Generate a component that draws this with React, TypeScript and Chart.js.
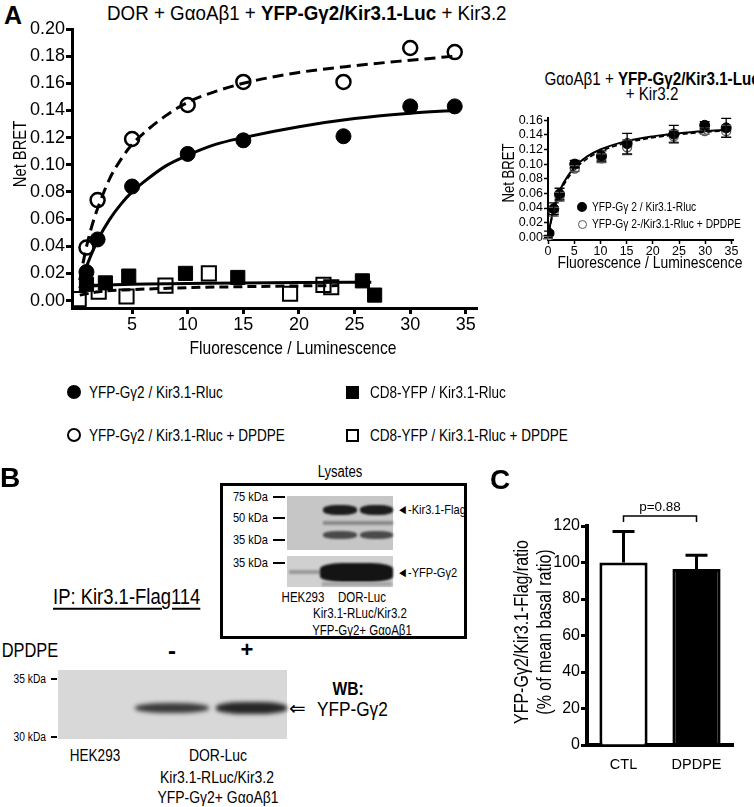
import React, { useEffect, useRef } from 'react';
import { Chart, registerables } from 'chart.js';
Chart.register(...registerables);

const SANS = "'Liberation Sans', Arial, sans-serif";

// ---------- Panel A: main saturation curves ----------
const gammaX = [0.9, 1.9, 5, 10, 15, 24, 30, 34];
const gammaY = [0.021, 0.045, 0.084, 0.108, 0.118, 0.121, 0.143, 0.143];
const gammaDpX = [0.9, 1.9, 5, 10, 15, 24, 30, 34];
const gammaDpY = [0.039, 0.074, 0.119, 0.144, 0.161, 0.161, 0.186, 0.183];
const cd8X = [0.9, 2.6, 4.7, 9.8, 14.5, 25.7, 26.8];
const cd8Y = [0.012, 0.013, 0.018, 0.02, 0.017, 0.0145, 0.004];
const cd8DpX = [0.2, 2.0, 4.5, 8.0, 11.9, 19.2, 22.2, 22.9];
const cd8DpY = [0.001, 0.0065, 0.003, 0.011, 0.02, 0.005, 0.0115, 0.0098];

// fitted curves
const fitX = [0.3, 0.6, 1, 1.5, 2, 3, 4, 5, 6, 8, 10, 12.5, 15, 20, 25, 30, 34];
const fitGammaY = [0.009, 0.017, 0.027, 0.037, 0.046, 0.06, 0.071, 0.08, 0.087, 0.099, 0.107, 0.115, 0.12, 0.128, 0.134, 0.138, 0.14];
const fitGammaDpY = [0.015, 0.028, 0.043, 0.058, 0.07, 0.09, 0.104, 0.115, 0.123, 0.136, 0.146, 0.154, 0.16, 0.168, 0.173, 0.177, 0.18];
const fitCd8X = [0.3, 2, 5, 10, 15, 20, 26.5];
const fitCd8Y = [0.01, 0.011, 0.012, 0.0125, 0.013, 0.0133, 0.0135];
const fitCd8DpX = [0.3, 2, 5, 10, 15, 20, 23.5];
const fitCd8DpY = [0.004, 0.0065, 0.008, 0.0095, 0.0102, 0.0108, 0.011];

const mainXTicks = [5, 10, 15, 20, 25, 30, 35];
const mainYTicks = [0, 0.02, 0.04, 0.06, 0.08, 0.1, 0.12, 0.14, 0.16, 0.18, 0.2];

// ---------- Panel A: inset ----------
const insX = [0.2, 1.1, 2.2, 5.1, 10.2, 15.1, 24, 29.9, 34];
const insY = [0.0055, 0.039, 0.059, 0.1, 0.111, 0.128, 0.141, 0.153, 0.1495];
const insErr = [0.003, 0.008, 0.008, 0.005, 0.007, 0.014, 0.012, 0.005, 0.013];
const insDpX = [0.0, 1.1, 2.2, 5.1, 10.2, 15.1, 24, 29.9, 34];
const insDpY = [0.0, 0.035, 0.0555, 0.094, 0.108, 0.123, 0.138, 0.145, 0.145];
const insDpErr = [0.002, 0.006, 0.006, 0.004, 0.006, 0.01, 0.008, 0.004, 0.008];
const insFitX = [0.2, 0.5, 1, 2, 3, 5, 7.5, 10, 15, 20, 25, 30, 34];
const insFitY = [0.0088, 0.0203, 0.036, 0.0589, 0.0748, 0.0953, 0.1105, 0.12, 0.1314, 0.1379, 0.1421, 0.1451, 0.1469];
const insFitDpY = [0.0081, 0.0188, 0.0338, 0.0559, 0.0716, 0.092, 0.1075, 0.1174, 0.1293, 0.1361, 0.1406, 0.1438, 0.1457];
const insXTicks = [0, 5, 10, 15, 20, 25, 30, 35];
const insYTicks = [0, 0.02, 0.04, 0.06, 0.08, 0.1, 0.12, 0.14, 0.16];

// ---------- Panel C ----------
const cCats = ['CTL', 'DPDPE'];
const cValues = [100, 96.5];
const cErrors = [17, 7.5];
const cYTicks = [0, 20, 40, 60, 80, 100, 120];
const cPText = 'p=0.88';
const cBracketY = 125.5;

const pts = (xs: number[], ys: number[]) => xs.map((x, i) => ({ x, y: ys[i] }));

type TP = { x: number; y: number; s: number; t: React.ReactNode; b?: boolean; a?: 'l' | 'c' | 'r'; f?: string; rot?: boolean; u?: boolean; sx?: number };
const T = ({ x, y, s, t, b, a = 'c', f = SANS, rot, u, sx = 0.82 }: TP) => {
  const tx = a === 'c' ? '-50%' : a === 'r' ? '-100%' : '0';
  const origin = a === 'c' ? 'center center' : a === 'r' ? 'right center' : 'left center';
  return (
    <div
      style={{
        position: 'absolute', left: x, top: y,
        transformOrigin: origin,
        transform: `translate(${tx},-50%)${rot ? ' rotate(-90deg)' : ''} scaleX(${sx})`,
        fontSize: s, fontWeight: b ? 'bold' : 'normal', fontFamily: f,
        whiteSpace: 'nowrap', lineHeight: 1, color: '#000',
        textDecoration: u ? 'underline' : undefined, textUnderlineOffset: u ? 4 : undefined,
      }}
    >{t}</div>
  );
};

const Box = (p: { l: number; t: number; w: number; h: number; bg?: string; border?: string; r?: string; blur?: number }) => (
  <div style={{ position: 'absolute', left: p.l, top: p.t, width: p.w, height: p.h, background: p.bg, border: p.border, borderRadius: p.r, boxSizing: 'border-box', filter: p.blur ? `blur(${p.blur}px)` : undefined }} />
);

const lineDs = (data: any, dash?: number[]) => ({
  type: 'line' as const, data, borderColor: '#000', borderWidth: 3, pointRadius: 0, fill: false,
  cubicInterpolationMode: 'monotone' as const, borderDash: dash || [], order: 0,
});

export default function App() {
  const mainRef = useRef<HTMLCanvasElement>(null);
  const insRef = useRef<HTMLCanvasElement>(null);
  const cRef = useRef<HTMLCanvasElement>(null);

  useEffect(() => {
    const charts: Chart[] = [];
    const axisCommon = (tl: number, tw: number, bw: number) => ({
      grid: { drawOnChartArea: false, drawTicks: true, tickLength: tl, tickWidth: tw, color: '#000' },
      border: { display: true, color: '#000', width: bw },
    });

    charts.push(new Chart(mainRef.current!, {
      type: 'scatter',
      data: {
        datasets: [
          lineDs(pts(fitX, fitGammaY)),
          lineDs(pts(fitX, fitGammaDpY), [11, 6]),
          lineDs(pts(fitCd8X, fitCd8Y)),
          lineDs(pts(fitCd8DpX, fitCd8DpY), [9, 5]),
          { type: 'scatter', data: pts(gammaX, gammaY), pointStyle: 'circle', pointRadius: 7.5, backgroundColor: '#000', borderColor: '#000', borderWidth: 1, order: 1 },
          { type: 'scatter', data: pts(gammaDpX, gammaDpY), pointStyle: 'circle', pointRadius: 7, backgroundColor: 'rgba(255,255,255,0)', borderColor: '#000', borderWidth: 2.5, order: 1 },
          { type: 'scatter', data: pts(cd8X, cd8Y), pointStyle: 'rect', pointRadius: 10, backgroundColor: '#000', borderColor: '#000', borderWidth: 1, order: 1 },
          { type: 'scatter', data: pts(cd8DpX, cd8DpY), pointStyle: 'rect', pointRadius: 10, backgroundColor: 'rgba(255,255,255,0)', borderColor: '#000', borderWidth: 2, order: 1 },
        ] as any,
      },
      options: {
        animation: false, responsive: false, maintainAspectRatio: false,
        layout: { padding: { top: 29, right: 23, left: 0, bottom: 0 } },
        plugins: { legend: { display: false }, tooltip: { enabled: false } },
        scales: {
          x: {
            type: 'linear', min: -0.4, max: 36,
            afterBuildTicks: (s: any) => { s.ticks = mainXTicks.map(v => ({ value: v })); },
            afterFit: (s: any) => { s.height = 52; },
            ...axisCommon(6, 3, 3),
            ticks: { font: { family: SANS, size: 18 }, color: '#000', padding: 0, maxRotation: 0, autoSkip: false, callback: (v: any) => String(v) },
          },
          y: {
            type: 'linear', min: -0.0055, max: 0.2,
            afterBuildTicks: (s: any) => { s.ticks = mainYTicks.map(v => ({ value: v })); },
            afterFit: (s: any) => { s.width = 72; },
            ...axisCommon(6, 3, 3),
            ticks: { font: { family: SANS, size: 18 }, color: '#000', padding: 1, autoSkip: false, callback: (v: any) => Number(v).toFixed(2) },
          },
        },
      } as any,
    }));

    const errPlugin = {
      id: 'errbars',
      afterDatasetsDraw(chart: any) {
        const { ctx, scales: { x, y } } = chart;
        chart.data.datasets.forEach((ds: any) => {
          if (!ds.errors) return;
          ctx.save();
          ctx.strokeStyle = ds.errColor || '#000';
          ctx.lineWidth = 1.3;
          ds.data.forEach((p: any, i: number) => {
            const px = x.getPixelForValue(p.x);
            const top = y.getPixelForValue(p.y + ds.errors[i]);
            const bot = y.getPixelForValue(p.y - ds.errors[i]);
            ctx.beginPath();
            ctx.moveTo(px, top); ctx.lineTo(px, bot);
            ctx.moveTo(px - 5, top); ctx.lineTo(px + 5, top);
            ctx.moveTo(px - 5, bot); ctx.lineTo(px + 5, bot);
            ctx.stroke();
          });
          ctx.restore();
        });
      },
    };

    charts.push(new Chart(insRef.current!, {
      type: 'scatter',
      data: {
        datasets: [
          { ...lineDs(pts(insFitX, insFitY)), borderWidth: 2 },
          { ...lineDs(pts(insFitX, insFitDpY), [5, 3]), borderWidth: 1.8 },
          { type: 'scatter', data: pts(insDpX, insDpY), errors: insDpErr, errColor: '#555', pointRadius: 4.5, backgroundColor: '#fff', borderColor: '#555', borderWidth: 1.3, order: 2 },
          { type: 'scatter', data: pts(insX, insY), errors: insErr, pointRadius: 5, backgroundColor: '#000', borderColor: '#000', borderWidth: 1, order: 1 },
        ] as any,
      },
      options: {
        animation: false, responsive: false, maintainAspectRatio: false,
        layout: { padding: { top: 18, right: 21, left: 0, bottom: 0 } },
        plugins: { legend: { display: false }, tooltip: { enabled: false } },
        scales: {
          x: {
            type: 'linear', min: 0, max: 35.3,
            afterBuildTicks: (s: any) => { s.ticks = insXTicks.map(v => ({ value: v })); },
            afterFit: (s: any) => { s.height = 35; },
            ...axisCommon(4, 1.5, 2),
            ticks: { font: { family: SANS, size: 12.5 }, color: '#000', padding: 0, maxRotation: 0, autoSkip: false, callback: (v: any) => String(v) },
          },
          y: {
            type: 'linear', min: -0.0037, max: 0.163,
            afterBuildTicks: (s: any) => { s.ticks = insYTicks.map(v => ({ value: v })); },
            afterFit: (s: any) => { s.width = 48; },
            ...axisCommon(4, 1.5, 2),
            ticks: { font: { family: SANS, size: 12.5 }, color: '#000', padding: 1, autoSkip: false, callback: (v: any) => Number(v).toFixed(2) },
          },
        },
      } as any,
      plugins: [errPlugin],
    }));

    const barPlugin = {
      id: 'barerr',
      afterDatasetsDraw(chart: any) {
        const { ctx, scales: { x, y } } = chart;
        const meta = chart.getDatasetMeta(0);
        ctx.save();
        ctx.strokeStyle = '#000';
        ctx.lineWidth = 3;
        meta.data.forEach((bar: any, i: number) => {
          const px = bar.x;
          const top = y.getPixelForValue(cValues[i] + cErrors[i]);
          const base = y.getPixelForValue(cValues[i]);
          ctx.beginPath();
          ctx.moveTo(px, base); ctx.lineTo(px, top);
          ctx.moveTo(px - 11, top); ctx.lineTo(px + 11, top);
          ctx.stroke();
        });
        const x0 = x.getPixelForValue(0), x1 = x.getPixelForValue(1);
        const yb = y.getPixelForValue(cBracketY);
        ctx.lineWidth = 1.5;
        ctx.beginPath();
        ctx.moveTo(x0, yb + 6); ctx.lineTo(x0, yb); ctx.lineTo(x1, yb); ctx.lineTo(x1, yb + 6);
        ctx.stroke();
        ctx.fillStyle = '#000';
        ctx.font = `13.5px ${SANS}`;
        ctx.textAlign = 'center';
        ctx.textBaseline = 'bottom';
        ctx.fillText(cPText, (x0 + x1) / 2, yb - 2);
        ctx.restore();
      },
    };

    charts.push(new Chart(cRef.current!, {
      type: 'bar',
      data: {
        labels: cCats,
        datasets: [{
          data: cValues, backgroundColor: ['#fff', '#000'], borderColor: '#000', borderWidth: 3,
          barPercentage: 0.66, categoryPercentage: 1,
        }],
      },
      options: {
        animation: false, responsive: false, maintainAspectRatio: false,
        layout: { padding: { top: 26, right: 21, left: 0, bottom: 0 } },
        plugins: { legend: { display: false }, tooltip: { enabled: false } },
        scales: {
          x: {
            afterFit: (s: any) => { s.height = 55; },
            grid: { display: false, drawTicks: false },
            border: { display: true, color: '#000', width: 4 },
            ticks: { font: { family: SANS, size: 14.5 }, color: '#000', padding: 11 },
          },
          y: {
            min: 0, max: 120,
            afterBuildTicks: (s: any) => { s.ticks = cYTicks.map(v => ({ value: v })); },
            afterFit: (s: any) => { s.width = 97; },
            ...axisCommon(6, 3, 4),
            ticks: { font: { family: SANS, size: 16 }, color: '#000', padding: 1, autoSkip: false },
          },
        },
      } as any,
      plugins: [barPlugin],
    }));

    return () => charts.forEach(c => c.destroy());
  }, []);

  const dot = (cx: number, cy: number, d: number, filled: boolean, bw = 2, col = '#000') => (
    <div style={{ position: 'absolute', left: cx - d / 2, top: cy - d / 2, width: d, height: d, borderRadius: '50%', background: filled ? col : '#fff', border: `${bw}px solid ${col}`, boxSizing: 'border-box' }} />
  );
  const sq = (cx: number, cy: number, d: number, filled: boolean) => (
    <div style={{ position: 'absolute', left: cx - d / 2, top: cy - d / 2, width: d, height: d, background: filled ? '#000' : '#fff', border: '2px solid #000', boxSizing: 'border-box' }} />
  );
  const dash = (x1: number, x2: number, y: number) => <Box l={x1} t={y - 0.75} w={x2 - x1} h={1.5} bg="#000" />;

  return (
    <div style={{ position: 'relative', width: 754, height: 807, background: '#fff', overflow: 'hidden' }}>
      <style>{'body{margin:0}'}</style>

      {/* Panel A */}
      <T x={13} y={15} s={25} b sx={1} t="A" />
      <T x={107} y={13} s={20.5} a="l" sx={0.915} t={<>DOR + GαoAβ1 + <b>YFP-Gγ2/Kir3.1-Luc</b> + Kir3.2</>} />
      <canvas ref={mainRef} width={500} height={360} style={{ position: 'absolute', left: 0, top: 0, width: 500, height: 360 }} />
      <T x={20} y={154} s={18} rot t="Net BRET" />
      <T x={293} y={347} s={19} t="Fluorescence / Luminescence" />

      {dot(74, 392, 14, true)}
      <T x={89} y={392} s={16.5} a="l" t="YFP-Gγ2 / Kir3.1-Rluc" />
      {dot(74, 435, 14, false)}
      <T x={89} y={435} s={16.5} a="l" t="YFP-Gγ2 / Kir3.1-Rluc + DPDPE" />
      {sq(352, 392, 13, true)}
      <T x={370} y={392} s={16.5} a="l" t="CD8-YFP / Kir3.1-Rluc" />
      {sq(352, 435, 13, false)}
      <T x={370} y={435} s={16.5} a="l" t="CD8-YFP / Kir3.1-Rluc + DPDPE" />

      {/* Inset */}
      <T x={652} y={79} s={18.5} t={<>GαoAβ1 + <b>YFP-Gγ2/Kir3.1-Luc</b></>} />
      <T x={652} y={94} s={18.5} t="+ Kir3.2" />
      <canvas ref={insRef} width={254} height={175} style={{ position: 'absolute', left: 500, top: 100, width: 254, height: 175 }} />
      <T x={509} y={173} s={16} rot t="Net BRET" />
      <T x={650} y={262} s={17} t="Fluorescence / Luminescence" />
      {dot(582, 207, 10, true)}
      <T x={592} y={207} s={12.5} a="l" t="YFP-Gγ 2 / Kir3.1-Rluc" />
      {dot(582, 224, 9, false, 1.3, '#555')}
      <T x={592} y={224} s={12.5} a="l" t="YFP-Gγ 2-/Kir3.1-Rluc + DPDPE" />

      {/* Panel B */}
      <T x={10} y={478} s={28} b sx={1} t="B" />
      <T x={340} y={472} s={16} t="Lysates" />
      <Box l={220} t={483} w={247} h={156} border="3px solid #000" />
      <Box l={287} t={496} w={106} h={54} bg="#c6c6c6" />
      <Box l={323} t={505} w={34} h={10} bg="#1c1c1c" r="40%" blur={1.2} />
      <Box l={360} t={505} w={33} h={10} bg="#1c1c1c" r="40%" blur={1.2} />
      <Box l={323} t={521} w={70} h={4} bg="#8a8a8a" blur={1} />
      <Box l={323} t={531} w={34} h={8} bg="#4a4a4a" r="40%" blur={1.2} />
      <Box l={360} t={531} w={33} h={8} bg="#4a4a4a" r="40%" blur={1.2} />
      <Box l={287} t={556} w={106} h={31} bg="#d0d0d0" />
      <Box l={289} t={570} w={32} h={4} bg="#9a9a9a" blur={1} />
      <Box l={320} t={563} w={73} h={19} bg="#141414" r="30%" blur={1.2} />
      <Box l={322} t={582} w={70} h={4} bg="#a5a5a5" blur={1} />
      <T x={268} y={497} s={13.5} a="r" t="75 kDa" />
      <T x={268} y={518} s={13.5} a="r" t="50 kDa" />
      <T x={268} y={540} s={13.5} a="r" t="35 kDa" />
      <T x={268} y={563} s={13.5} a="r" t="35 kDa" />
      {dash(273, 285, 497)}{dash(273, 285, 518)}{dash(273, 285, 540)}{dash(273, 285, 563)}
      <T x={397} y={510} s={13.5} a="l" t="◄-Kir3.1-Flag" />
      <T x={397} y={573} s={13.5} a="l" t="◄-YFP-Gγ2" />
      <T x={303} y={597} s={14} t="HEK293" />
      <T x={362} y={597} s={14} t="DOR-Luc" />
      <T x={360} y={613} s={14} t="Kir3.1-RLuc/Kir3.2" />
      <T x={362} y={630} s={14} t="YFP-Gγ2+ GαoAβ1" />

      <T x={53} y={597} s={22.5} a="l" u t="IP: Kir3.1-Flag114" />
      <T x={30} y={650} s={20} t="DPDPE" />
      <T x={172} y={651} s={24} b sx={1} t="-" />
      <T x={247} y={650} s={22} b sx={1} t="+" />
      <Box l={58} t={670} w={229} h={69} bg="#d8d8d8" />
      <Box l={135} t={703} w={74} h={10} bg="#3a3a3a" r="45%" blur={2} />
      <Box l={216} t={702} w={71} h={12} bg="#262626" r="40%" blur={2} />
      <T x={46} y={679} s={12.5} a="r" t="35 kDa" />
      <T x={46} y={737} s={12.5} a="r" t="30 kDa" />
      {dash(51, 57, 679)}{dash(51, 57, 737)}
      <T x={348} y={688} s={19} b t="WB:" />
      <T x={289} y={708} s={20} a="l" sx={1} f={"'DejaVu Sans', sans-serif"} t="⇐" />
      <T x={317} y={708} s={21} a="l" t="YFP-Gγ2" />
      <T x={95} y={755} s={16.5} t="HEK293" />
      <T x={218} y={755} s={17} t="DOR-Luc" />
      <T x={217} y={777} s={17} t="Kir3.1-RLuc/Kir3.2" />
      <T x={218} y={797} s={17} t="YFP-Gγ2+ GαoAβ1" />

      {/* Panel C */}
      <T x={500} y={480} s={28} b sx={1} t="C" />
      <canvas ref={cRef} width={264} height={300} style={{ position: 'absolute', left: 490, top: 500, width: 264, height: 300 }} />
      <T x={522} y={632} s={19.5} rot t="YFP-Gγ2/Kir3.1-Flag/ratio" />
      <T x={545} y={632} s={19.5} rot t="(% of mean basal ratio)" />
    </div>
  );
}
